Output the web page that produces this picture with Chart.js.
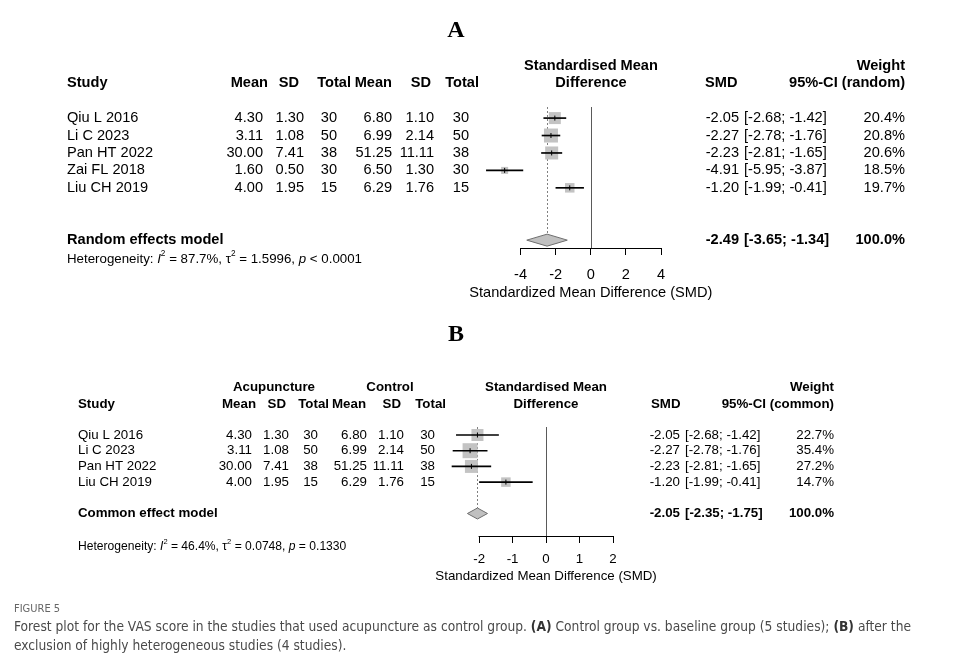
<!DOCTYPE html>
<html>
<head>
<meta charset="utf-8">
<script src="https://cdn.jsdelivr.net/npm/chart.js@4/dist/chart.umd.min.js"></script>
<style>
  html, body { margin:0; padding:0; background:#fff; }
  #page { position:relative; width:966px; height:662px; overflow:hidden; }
  #page canvas { position:absolute; left:0; top:0; }
  .ttl { position:absolute; width:40px; margin-left:-20px; text-align:center;
         font:bold 24px "Liberation Serif", "DejaVu Serif", serif; color:#000; }
  .cap { position:absolute; left:14px; white-space:nowrap; color:#4a4a4a; transform-origin:0 0;
         font-family:"Liberation Sans Narrow", "DejaVu Sans Condensed", sans-serif; }
  .cap b { color:#333; }
</style>
</head>
<body>
<div id="page">
  <canvas id="cA" width="966" height="662"></canvas>
  <canvas id="cB" width="966" height="662"></canvas>
  <div class="ttl" style="left:456px;top:16px">A</div>
  <div class="ttl" style="left:456px;top:320px">B</div>
  <div class="cap" style="top:602px;font-size:11px;color:#666">FIGURE 5</div>
  <div class="cap" id="cap1" style="top:618px;font-size:14px">Forest plot for the VAS score in the studies that used acupuncture as control group. <b>(A)</b> Control group vs. baseline group (5 studies); <b>(B)</b> after the</div>
  <div class="cap" id="cap2" style="top:637px;font-size:14px">exclusion of highly heterogeneous studies (4 studies).</div>
</div>
<script>
/* ── data ─────────────────────────────────────────── */
// panel A: 5 studies, random effects
const STUDIES_A  = ["Qiu L 2016", "Li C 2023", "Pan HT 2022", "Zai FL 2018", "Liu CH 2019"];
const EXP_MEAN_A = [4.30, 3.11, 30.00, 1.60, 4.00];
const EXP_SD_A   = [1.30, 1.08, 7.41, 0.50, 1.95];
const EXP_N_A    = [30, 50, 38, 30, 15];
const CTL_MEAN_A = [6.80, 6.99, 51.25, 6.50, 6.29];
const CTL_SD_A   = [1.10, 2.14, 11.11, 1.30, 1.76];
const CTL_N_A    = [30, 50, 38, 30, 15];
const SMD_A      = [-2.05, -2.27, -2.23, -4.91, -1.20];
const LO_A       = [-2.68, -2.78, -2.81, -5.95, -1.99];
const HI_A       = [-1.42, -1.76, -1.65, -3.87, -0.41];
const WEIGHT_A   = [20.4, 20.8, 20.6, 18.5, 19.7];
const POOLED_A   = [-2.49, -3.65, -1.34];   // smd, lo, hi
const TICKS_A    = [-4, -2, 0, 2, 4];

// panel B: 4 studies, common effect
const STUDIES_B  = ["Qiu L 2016", "Li C 2023", "Pan HT 2022", "Liu CH 2019"];
const EXP_MEAN_B = [4.30, 3.11, 30.00, 4.00];
const EXP_SD_B   = [1.30, 1.08, 7.41, 1.95];
const EXP_N_B    = [30, 50, 38, 15];
const CTL_MEAN_B = [6.80, 6.99, 51.25, 6.29];
const CTL_SD_B   = [1.10, 2.14, 11.11, 1.76];
const CTL_N_B    = [30, 50, 38, 15];
const SMD_B      = [-2.05, -2.27, -2.23, -1.20];
const LO_B       = [-2.68, -2.78, -2.81, -1.99];
const HI_B       = [-1.42, -1.76, -1.65, -0.41];
const WEIGHT_B   = [22.7, 35.4, 27.2, 14.7];
const POOLED_B   = [-2.05, -2.35, -1.75];
const TICKS_B    = [-2, -1, 0, 1, 2];

/* ── helpers ──────────────────────────────────────── */
const SANS = '"Liberation Sans", Arial, sans-serif';

function put(ctx, s, x, y, size, opt) {
  opt = opt || {};
  ctx.font = (opt.italic ? "italic " : "") + (opt.bold ? "bold " : "") + size + "px " + SANS;
  ctx.textAlign = opt.align || "left";
  ctx.textBaseline = "middle";
  ctx.fillStyle = "#000";
  ctx.fillText(s, x, y);
  return ctx.measureText(s).width;
}

// "Heterogeneity: I^2 = .., tau^2 = .., p .." with italics and superscripts
function hetero(ctx, x, y, size, parts) {
  let cx = x;
  parts.forEach(p => {
    if (p.sup) cx += put(ctx, p.t, cx, y - size * 0.42, size * 0.62);
    else cx += put(ctx, p.t, cx, y, size, { italic: p.it });
  });
}

/* ── forest drawing plugin ────────────────────────── */
function forestPlugin(P) {
  return {
    id: "forest" + P.id,
    beforeDatasetsDraw(chart) {
      const { ctx, chartArea } = chart;
      const x = chart.scales.x, y = chart.scales.y;
      ctx.save();
      // axis line only over the tick range
      const yb = Math.round(chartArea.bottom) + 0.5;
      ctx.strokeStyle = "#000"; ctx.lineWidth = 1;
      ctx.beginPath();
      ctx.moveTo(x.getPixelForValue(P.ticks[0]) - 0.5, yb);
      ctx.lineTo(x.getPixelForValue(P.ticks[P.ticks.length - 1]) + 0.5, yb);
      ctx.stroke();
      // line of no effect
      const x0 = Math.round(x.getPixelForValue(0)) + 0.5;
      ctx.strokeStyle = "#5a5a5a";
      ctx.beginPath(); ctx.moveTo(x0, chartArea.top); ctx.lineTo(x0, chartArea.bottom); ctx.stroke();
      // pooled estimate, dotted
      const xp = Math.round(x.getPixelForValue(P.pooled[0])) + 0.5;
      ctx.strokeStyle = "#808080"; ctx.setLineDash([2, 2]);
      ctx.beginPath(); ctx.moveTo(xp, chartArea.top);
      ctx.lineTo(xp, y.getPixelForValue(P.poolRow) - P.dh); ctx.stroke();
      ctx.restore();
    },
    afterDatasetsDraw(chart) {
      const { ctx } = chart;
      const x = chart.scales.x, y = chart.scales.y;
      const yc = y.getPixelForValue(P.poolRow);
      ctx.save();
      ctx.beginPath();
      ctx.moveTo(x.getPixelForValue(P.pooled[1]), yc);
      ctx.lineTo(x.getPixelForValue(P.pooled[0]), yc - P.dh);
      ctx.lineTo(x.getPixelForValue(P.pooled[2]), yc);
      ctx.lineTo(x.getPixelForValue(P.pooled[0]), yc + P.dh);
      ctx.closePath();
      ctx.fillStyle = "#c0c0c0"; ctx.fill();
      ctx.strokeStyle = "#6e6e6e"; ctx.lineWidth = 1; ctx.stroke();
      ctx.restore();
    },
    afterDraw(chart) {
      const { ctx } = chart;
      const x = chart.scales.x, y = chart.scales.y;
      const fs = P.fs;
      ctx.save();
      // header
      P.groups.forEach(g => put(ctx, g[0], g[1], P.hy0, fs, { bold: true, align: "center" }));
      put(ctx, "Study", P.studyX, P.hy1, fs, { bold: true });
      P.heads.forEach((h, i) => put(ctx, h, P.headX[i], P.hy1, fs, { bold: true, align: "right" }));
      put(ctx, "Standardised Mean", P.midX, P.hy0, fs, { bold: true, align: "center" });
      put(ctx, "Difference", P.midX, P.hy1, fs, { bold: true, align: "center" });
      put(ctx, "SMD", P.smdHX, P.hy1, fs, { bold: true });
      put(ctx, P.ciHead, P.wX, P.hy1, fs, { bold: true, align: "right" });
      put(ctx, "Weight", P.wX, P.hy0, fs, { bold: true, align: "right" });
      // study rows
      P.studies.forEach((s, i) => {
        const yy = y.getPixelForValue(i);
        put(ctx, s, P.studyX, yy, fs);
        P.cols.forEach((c, k) => put(ctx, c[0][i].toFixed(c[1]), P.colX[k], yy, fs, { align: "right" }));
        put(ctx, P.smd[i].toFixed(2), P.smdX, yy, fs, { align: "right" });
        put(ctx, "[" + P.lo[i].toFixed(2) + "; " + P.hi[i].toFixed(2) + "]", P.ciX, yy, fs);
        put(ctx, P.weight[i].toFixed(1) + "%", P.wX, yy, fs, { align: "right" });
      });
      // pooled row
      const yp = y.getPixelForValue(P.poolRow);
      put(ctx, P.model, P.studyX, yp, fs, { bold: true });
      put(ctx, P.pooled[0].toFixed(2), P.smdX, yp, fs, { bold: true, align: "right" });
      put(ctx, "[" + P.pooled[1].toFixed(2) + "; " + P.pooled[2].toFixed(2) + "]", P.ciX, yp, fs, { bold: true });
      put(ctx, "100.0%", P.wX, yp, fs, { bold: true, align: "right" });
      hetero(ctx, P.studyX, P.hetY, P.hetFs, P.het);
      // x axis title, centred on the tick range
      const xc = (x.getPixelForValue(P.ticks[0]) + x.getPixelForValue(P.ticks[P.ticks.length - 1])) / 2;
      put(ctx, "Standardized Mean Difference (SMD)", xc, P.titleY, fs, { align: "center" });
      ctx.restore();
    }
  };
}

function makeForest(canvasId, P) {
  const rows = P.studies.map((_, i) => i);
  return new Chart(document.getElementById(canvasId), {
    type: "scatter",
    data: {
      datasets: [
        { // confidence intervals
          type: "bar", indexAxis: "y", order: 2, clip: false,
          data: rows.map(i => ({ x: [P.lo[i], P.hi[i]], y: i })),
          backgroundColor: "#000", borderWidth: 0,
          barThickness: 1, grouped: false,
        },
        { // weight squares
          type: "scatter", order: 3, clip: false,
          data: rows.map(i => ({ x: P.smd[i], y: i })),
          pointStyle: "rect", pointRadius: P.sq.map(s => s / Math.SQRT2),
          backgroundColor: "#c3c3c3", borderWidth: 0,
        },
        { // point estimate tick
          type: "scatter", order: 1, clip: false,
          data: rows.map(i => ({ x: P.smd[i], y: i })),
          pointStyle: "line", rotation: 90, pointRadius: 2.5,
          borderColor: "#000", borderWidth: 1,
        },
      ],
    },
    options: {
      responsive: false,
      animation: false,
      events: [],
      layout: { padding: P.pad },
      plugins: { legend: { display: false }, tooltip: { enabled: false } },
      scales: {
        x: {
          type: "linear", min: P.xMin, max: P.ticks[P.ticks.length - 1],
          afterBuildTicks: s => { s.ticks = P.ticks.map(v => ({ value: v })); },
          afterFit: s => { s.height = P.axisH; },
          grid: { drawOnChartArea: false, drawTicks: true, tickLength: 7, color: "#000", tickWidth: 1 },
          border: { display: false },
          ticks: { color: "#000", padding: P.tickPad, font: { family: SANS, size: P.fs } },
          title: { display: false },
        },
        y: { type: "linear", reverse: true, offset: false, min: P.yMin, max: P.yMax, display: false },
      },
    },
    plugins: [forestPlugin(P)],
  });
}

/* ── panel A ──────────────────────────────────────── */
makeForest("cA", {
  id: "A", fs: 14.6, hetFs: 13.3,
  studies: STUDIES_A, smd: SMD_A, lo: LO_A, hi: HI_A, weight: WEIGHT_A, pooled: POOLED_A, ticks: TICKS_A,
  cols: [[EXP_MEAN_A, 2], [EXP_SD_A, 2], [EXP_N_A, 0], [CTL_MEAN_A, 2], [CTL_SD_A, 2], [CTL_N_A, 0]],
  colX: [263, 304, 337, 392, 434, 469],
  heads: ["Mean", "SD", "Total", "Mean", "SD", "Total"],
  headX: [268, 299, 351, 392, 431, 479],
  groups: [],
  hy0: 66, hy1: 83, studyX: 67, midX: 591,
  smdHX: 705, smdX: 739, ciX: 744, wX: 905, ciHead: "95%-CI (random)",
  model: "Random effects model", poolRow: 7, dh: 6,
  hetY: 259, titleY: 293,
  het: [{ t: "Heterogeneity: " }, { t: "I", it: true }, { t: "2", sup: true }, { t: " = 87.7%, " },
        { t: "\u03c4" }, { t: "2", sup: true }, { t: " = 1.5996, " }, { t: "p", it: true }, { t: " < 0.0001" }],
  sq: [12, 14, 13, 7, 9.5],
  xMin: -6.2,
  pad: { left: 482, right: 305, top: 107, bottom: 662 - 248 - 40 },
  axisH: 40, tickPad: 11,
  yMin: -0.636, yMax: 7.45,
});

/* ── panel B ──────────────────────────────────────── */
makeForest("cB", {
  id: "B", fs: 13.3, hetFs: 12.1,
  studies: STUDIES_B, smd: SMD_B, lo: LO_B, hi: HI_B, weight: WEIGHT_B, pooled: POOLED_B, ticks: TICKS_B,
  cols: [[EXP_MEAN_B, 2], [EXP_SD_B, 2], [EXP_N_B, 0], [CTL_MEAN_B, 2], [CTL_SD_B, 2], [CTL_N_B, 0]],
  colX: [252, 289, 318, 367, 404, 435],
  heads: ["Mean", "SD", "Total", "Mean", "SD", "Total"],
  headX: [256, 286, 329, 366, 401, 446],
  groups: [["Acupuncture", 274], ["Control", 390]],
  hy0: 387, hy1: 404, studyX: 78, midX: 546,
  smdHX: 651, smdX: 680, ciX: 685, wX: 834, ciHead: "95%-CI (common)",
  model: "Common effect model", poolRow: 5, dh: 5.5,
  hetY: 547, titleY: 576,
  het: [{ t: "Heterogeneity: " }, { t: "I", it: true }, { t: "2", sup: true }, { t: " = 46.4%, " },
        { t: "\u03c4" }, { t: "2", sup: true }, { t: " = 0.0748, " }, { t: "p", it: true }, { t: " = 0.1330" }],
  sq: [12, 15, 13, 9.5],
  xMin: -2.9,
  pad: { left: 449, right: 353, top: 427, bottom: 662 - 536 - 36 },
  axisH: 36, tickPad: 8,
  yMin: -0.51, yMax: 6.433,
});

/* ── caption: fit the narrow figure font width ────── */
(function () {
  const c1 = document.getElementById("cap1"), c2 = document.getElementById("cap2");
  const k = 897 / c1.getBoundingClientRect().width;
  if (k < 1) [c1, c2].forEach(c => { c.style.transform = "scaleX(" + k + ")"; });
})();
</script>
</body>
</html>
